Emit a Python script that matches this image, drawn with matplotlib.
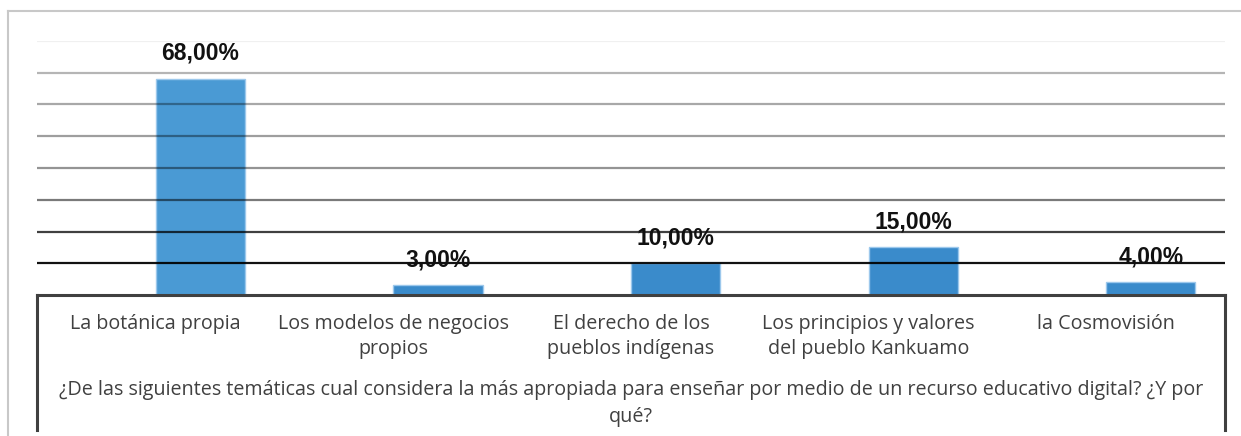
import matplotlib
matplotlib.use("Agg")
import matplotlib.pyplot as plt
import numpy as np
from matplotlib.lines import Line2D
from matplotlib import transforms

categories = ["La botánica propia",
              "Los modelos de negocios\npropios",
              "El derecho de los\npueblos indígenas",
              "Los principios y valores\ndel pueblo Kankuamo",
              "la Cosmovisión"]
values = [68.0, 3.0, 10.0, 15.0, 4.0]
value_labels = ["68,00%", "3,00%", "10,00%", "15,00%", "4,00%"]
axis_title = ("¿De las siguientes temáticas cual considera la más apropiada para enseñar por medio "
              "de un recurso educativo digital? ¿Y por\nqué?")
grid_levels = [10, 20, 30, 40, 50, 60, 70, 80]

W, H = 1241, 436
fig = plt.figure(figsize=(W / 100, H / 100), dpi=100)
fig.patch.set_facecolor("white")

def fx(px):
    return px / W

def fy(py):
    return 1 - py / H

ax_left, ax_right, ax_top, ax_bottom = 37, 1225, 41, 295
ax = fig.add_axes([fx(ax_left), fy(ax_bottom), fx(ax_right - ax_left), (ax_bottom - ax_top) / H])
ax.set_xlim(-0.5, len(categories) - 0.5)
ax.set_ylim(0, 80)
for s in ax.spines.values():
    s.set_visible(False)
ax.set_xticks([])
ax.set_yticks([])
ax.patch.set_alpha(0)

x = np.arange(len(categories))
width = 0.375
bar_colors = ["#4a9ad4", "#3a8bcb", "#3a8bcb", "#3a8bcb", "#3a8bcb"]
ax.bar(x + width / 2, values, width=width, color=bar_colors, edgecolor="#9cc8ec",
       linewidth=1.0, zorder=2)

# gridlines (gradient of darkness, drawn over bars semi-transparently)
alphas = [0.93, 0.75, 0.52, 0.42, 0.38, 0.34, 0.29, 0.06]
for lvl, a in zip(grid_levels, alphas):
    ax.axhline(lvl, color="black", alpha=a, linewidth=1.6, zorder=3)

# data labels
for xi, v, lab in zip(x, values, value_labels):
    ax.annotate(lab, (xi + width / 2, v), xytext=(0, 18.5), textcoords="offset points",
                ha="center", va="center", fontsize=16.5, fontweight="bold",
                family="Liberation Sans", color="#111111", zorder=4)

# category labels
trans = transforms.blended_transform_factory(ax.transData, fig.transFigure)
for xi, cat in zip(x, categories):
    ax.text(xi, fy(314), cat, transform=trans, ha="center", va="top",
            fontsize=14.2, family="Open Sans", color="#404040", linespacing=1.3)

fig.text(fx((ax_left + ax_right) / 2), fy(380), axis_title, ha="center", va="top",
         fontsize=14.2, family="Open Sans", color="#404040", linespacing=1.45)

# box around category area
box_color = "#404040"
fig.add_artist(Line2D([fx(ax_left), fx(ax_right)], [fy(ax_bottom), fy(ax_bottom)],
                      color=box_color, linewidth=2.2, transform=fig.transFigure))
fig.add_artist(Line2D([fx(ax_left), fx(ax_left)], [fy(ax_bottom), fy(430)],
                      color=box_color, linewidth=2.2, transform=fig.transFigure))
fig.add_artist(Line2D([fx(ax_right), fx(ax_right)], [fy(ax_bottom), fy(430)],
                      color=box_color, linewidth=2.2, transform=fig.transFigure))

# outer light border
fig.add_artist(Line2D([fx(7.5), fx(1241)], [fy(11.5), fy(11.5)],
                      color="#c8c8c8", linewidth=1.5, transform=fig.transFigure))
fig.add_artist(Line2D([fx(7.5), fx(7.5)], [fy(11.5), fy(436)],
                      color="#c8c8c8", linewidth=1.5, transform=fig.transFigure))

fig.savefig("out.png", dpi=100)
